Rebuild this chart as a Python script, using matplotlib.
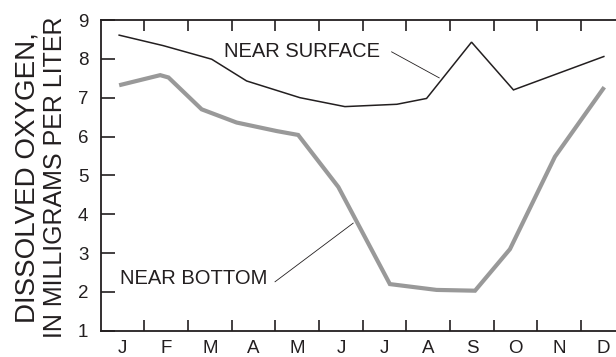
import matplotlib.pyplot as plt
import numpy as np

plt.rcParams['font.family'] = ['Liberation Sans', 'DejaVu Sans']

# Month labels (ticks sit at month boundaries, labels at month centres)
months = ["J", "F", "M", "A", "M", "J", "J", "A", "S", "O", "N", "D"]

# Sampling times as fractional months since Jan 1, dissolved oxygen in mg/L
surface_time = [0.42, 1.43, 2.54, 3.34, 4.56, 5.59, 6.78, 7.46, 8.49, 9.45, 11.52]
surface_do = [8.61, 8.34, 7.99, 7.43, 7.00, 6.77, 6.83, 6.98, 8.43, 7.20, 8.06]

bottom_time = [0.42, 1.36, 1.55, 2.31, 3.11, 4.03, 4.52, 5.44, 6.62, 7.69, 8.57,
               9.37, 10.40, 11.53]
bottom_do = [7.32, 7.58, 7.52, 6.70, 6.36, 6.14, 6.04, 4.70, 2.20, 2.05, 2.03,
             3.10, 5.48, 7.27]

ink = "#231f20"

fig = plt.figure(figsize=(6.16, 3.57), dpi=100)
ax = fig.add_axes([100.8 / 616, 26.3 / 357, 524 / 616, 310.7 / 357])

ax.plot(bottom_time, bottom_do, color="#999999", linewidth=3.0,
        solid_joinstyle="miter", solid_capstyle="butt")
ax.plot(surface_time, surface_do, color=ink, linewidth=1.1,
        solid_joinstyle="miter")

# Curve labels with leader lines
ax.text(2.81, 8.18, "NEAR SURFACE", fontsize=14.5, color=ink, va="center", ha="left")
ax.plot([6.66, 7.75], [8.18, 7.51], color=ink, linewidth=0.6)
ax.text(0.44, 2.35, "NEAR BOTTOM", fontsize=14.5, color=ink, va="center", ha="left")
ax.plot([3.99, 5.78], [2.26, 3.77], color=ink, linewidth=0.6)

ax.set_xlim(0, 12)
ax.set_ylim(1, 9)

ax.set_xticks(np.arange(1, 12))
ax.set_xticklabels([])
ax.set_xticks(np.arange(12) + 0.5, minor=True)
ax.set_xticklabels(months, minor=True)
ax.tick_params(axis="x", which="major", direction="in", length=8, width=1.2,
               top=True, bottom=True, color=ink)
ax.tick_params(axis="x", which="minor", length=0, pad=6.5, labelsize=13.5,
               labelcolor=ink)

ax.set_yticks(np.arange(1, 10))
ax.tick_params(axis="y", direction="in", length=10, width=1.2, pad=9,
               labelsize=13.5, color=ink, labelcolor=ink)

for side in ["left", "bottom", "top"]:
    ax.spines[side].set_linewidth(1.3)
    ax.spines[side].set_color(ink)
ax.spines["right"].set_visible(False)

# Two-line y-axis title
fig.text(35 / 616, 179.5 / 357, "DISSOLVED OXYGEN,", rotation=90, fontsize=20,
         ha="center", va="baseline", rotation_mode="anchor", color=ink)
fig.text(61.7 / 616, 179.5 / 357, "IN MILLIGRAMS PER LITER", rotation=90, fontsize=18,
         ha="center", va="baseline", rotation_mode="anchor", color=ink)

plt.savefig("out.png", dpi=100)
plt.close()
